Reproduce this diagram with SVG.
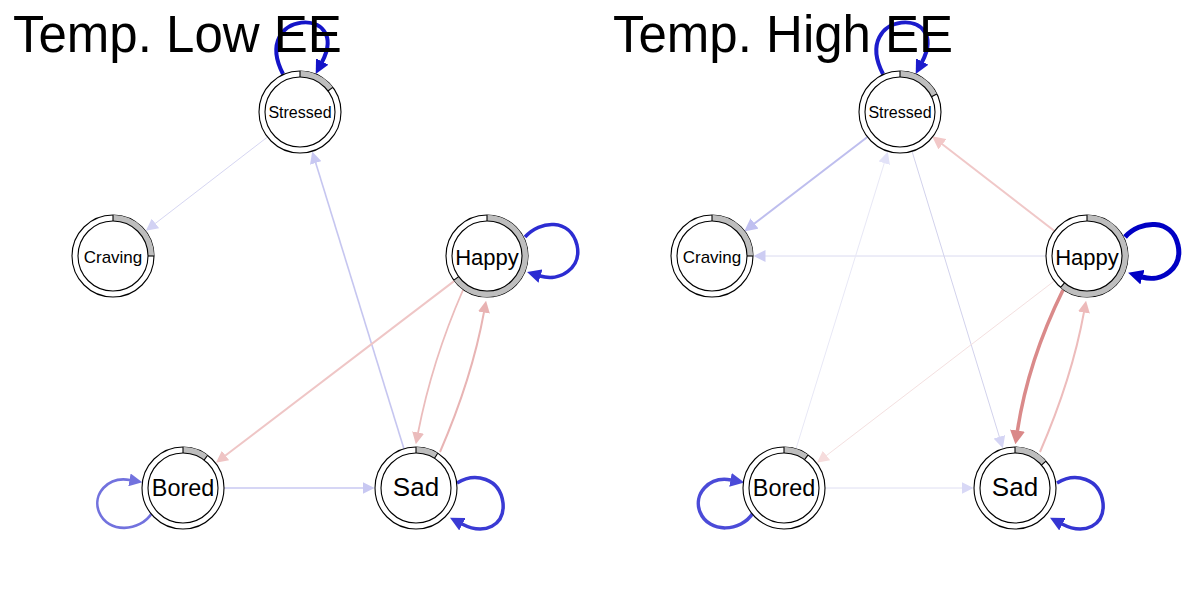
<svg xmlns="http://www.w3.org/2000/svg" width="1200" height="600" viewBox="0 0 1200 600">
  <style>
    .title { font-family: "Liberation Sans", Arial, sans-serif; font-size: 51px; fill: #000; }
    .lbl { font-family: "Liberation Sans", Arial, sans-serif; fill: #000; text-anchor: middle; }
    .outer { fill: #fff; stroke: #000; stroke-width: 1.1; }
    .inner { fill: #fff; stroke: #000; stroke-width: 1.1; }
    .pie { fill: none; stroke: #bebebe; stroke-width: 6; }
    .tick { stroke: #000; stroke-width: 1.1; }
    .edge { fill: none; stroke-linecap: butt; }
  </style>
  <defs>
    <!-- arrowheads, one per colour; path ends sit on the arrow base -->
    <marker id="aS1" viewBox="0 0 14 14" refX="0.5" refY="7" markerWidth="14" markerHeight="14" markerUnits="userSpaceOnUse" orient="auto"><path d="M0,0L14,7L0,14z" fill="#1414c8"/></marker>
    <marker id="aSC1" viewBox="0 0 12 12" refX="0.5" refY="6" markerWidth="12" markerHeight="12" markerUnits="userSpaceOnUse" orient="auto"><path d="M0,0L12,6L0,12z" fill="#d2d2f4"/></marker>
    <marker id="aDS1" viewBox="0 0 12 12" refX="0.5" refY="6" markerWidth="12" markerHeight="12" markerUnits="userSpaceOnUse" orient="auto"><path d="M0,0L12,6L0,12z" fill="#c8c8f2"/></marker>
    <marker id="aH1" viewBox="0 0 14 14" refX="0.5" refY="7" markerWidth="14" markerHeight="14" markerUnits="userSpaceOnUse" orient="auto"><path d="M0,0L14,7L0,14z" fill="#2c2cd2"/></marker>
    <marker id="aHB1" viewBox="0 0 12 12" refX="0.5" refY="6" markerWidth="12" markerHeight="12" markerUnits="userSpaceOnUse" orient="auto"><path d="M0,0L12,6L0,12z" fill="#efc4c4"/></marker>
    <marker id="aHD1" viewBox="0 0 12 12" refX="0.5" refY="6" markerWidth="12" markerHeight="12" markerUnits="userSpaceOnUse" orient="auto"><path d="M0,0L12,6L0,12z" fill="#ebbcbc"/></marker>
    <marker id="aDH1" viewBox="0 0 12 12" refX="0.5" refY="6" markerWidth="12" markerHeight="12" markerUnits="userSpaceOnUse" orient="auto"><path d="M0,0L12,6L0,12z" fill="#e8b2b2"/></marker>
    <marker id="aBD1" viewBox="0 0 12 12" refX="0.5" refY="6" markerWidth="12" markerHeight="12" markerUnits="userSpaceOnUse" orient="auto"><path d="M0,0L12,6L0,12z" fill="#c8c8f2"/></marker>
    <marker id="aB1" viewBox="0 0 13 13" refX="0.5" refY="6.5" markerWidth="13" markerHeight="13" markerUnits="userSpaceOnUse" orient="auto"><path d="M0,0L13,6.5L0,13z" fill="#7272de"/></marker>
    <marker id="aD1" viewBox="0 0 14 14" refX="0.5" refY="7" markerWidth="14" markerHeight="14" markerUnits="userSpaceOnUse" orient="auto"><path d="M0,0L14,7L0,14z" fill="#3a3ad4"/></marker>

    <marker id="aS2" viewBox="0 0 14 14" refX="0.5" refY="7" markerWidth="14" markerHeight="14" markerUnits="userSpaceOnUse" orient="auto"><path d="M0,0L14,7L0,14z" fill="#1c1ccc"/></marker>
    <marker id="aSC2" viewBox="0 0 13 13" refX="0.5" refY="6.5" markerWidth="13" markerHeight="13" markerUnits="userSpaceOnUse" orient="auto"><path d="M0,0L13,6.5L0,13z" fill="#c0c0f0"/></marker>
    <marker id="aHS2" viewBox="0 0 13 13" refX="0.5" refY="6.5" markerWidth="13" markerHeight="13" markerUnits="userSpaceOnUse" orient="auto"><path d="M0,0L13,6.5L0,13z" fill="#f2c8c8"/></marker>
    <marker id="aHC2" viewBox="0 0 12 12" refX="0.5" refY="6" markerWidth="12" markerHeight="12" markerUnits="userSpaceOnUse" orient="auto"><path d="M0,0L12,6L0,12z" fill="#cdcdf3"/></marker>
    <marker id="aBS2" viewBox="0 0 12 12" refX="0.5" refY="6" markerWidth="12" markerHeight="12" markerUnits="userSpaceOnUse" orient="auto"><path d="M0,0L12,6L0,12z" fill="#e2e2f8"/></marker>
    <marker id="aSD2" viewBox="0 0 12 12" refX="0.5" refY="6" markerWidth="12" markerHeight="12" markerUnits="userSpaceOnUse" orient="auto"><path d="M0,0L12,6L0,12z" fill="#d4d4f4"/></marker>
    <marker id="aHB2" viewBox="0 0 12 12" refX="0.5" refY="6" markerWidth="12" markerHeight="12" markerUnits="userSpaceOnUse" orient="auto"><path d="M0,0L12,6L0,12z" fill="#f6dcdc"/></marker>
    <marker id="aHD2" viewBox="0 0 14 15" refX="0.5" refY="7.5" markerWidth="14" markerHeight="15" markerUnits="userSpaceOnUse" orient="auto"><path d="M0,0L14,7.5L0,15z" fill="#da8888"/></marker>
    <marker id="aDH2" viewBox="0 0 12 12" refX="0.5" refY="6" markerWidth="12" markerHeight="12" markerUnits="userSpaceOnUse" orient="auto"><path d="M0,0L12,6L0,12z" fill="#edbaba"/></marker>
    <marker id="aBD2" viewBox="0 0 12 12" refX="0.5" refY="6" markerWidth="12" markerHeight="12" markerUnits="userSpaceOnUse" orient="auto"><path d="M0,0L12,6L0,12z" fill="#d8d8f6"/></marker>
    <marker id="aH2" viewBox="0 0 15 15" refX="0.5" refY="7.5" markerWidth="15" markerHeight="15" markerUnits="userSpaceOnUse" orient="auto"><path d="M0,0L15,7.5L0,15z" fill="#0000c4"/></marker>
    <marker id="aB2" viewBox="0 0 14 14" refX="0.5" refY="7" markerWidth="14" markerHeight="14" markerUnits="userSpaceOnUse" orient="auto"><path d="M0,0L14,7L0,14z" fill="#4b4bd8"/></marker>
    <marker id="aD2" viewBox="0 0 14 14" refX="0.5" refY="7" markerWidth="14" markerHeight="14" markerUnits="userSpaceOnUse" orient="auto"><path d="M0,0L14,7L0,14z" fill="#3535d2"/></marker>
  </defs>

  <rect width="1200" height="600" fill="#fff"/>

  <!-- ===== Left network: Low EE ===== -->
  <g id="edges-low">
    <path class="edge" d="M267.5,137 L155,223.7" stroke="#d6d6f2" stroke-width="1" marker-end="url(#aSC1)"/>
    <path class="edge" d="M404,449 L315.6,162.5" stroke="#c6c6f0" stroke-width="1.6" marker-end="url(#aDS1)"/>
    <path class="edge" d="M454.4,280.9 L225.1,455.8" stroke="#efc6c6" stroke-width="2" marker-end="url(#aHB1)"/>
    <path class="edge" d="M463,290 Q432,361 418,433" stroke="#ebbcbc" stroke-width="1.8" marker-end="url(#aHD1)"/>
    <path class="edge" d="M440,452 Q472,378 484,312" stroke="#e8b4b4" stroke-width="2" marker-end="url(#aDH1)"/>
    <path class="edge" d="M224,488 L363,488" stroke="#c8c8f2" stroke-width="1.6" marker-end="url(#aBD1)"/>
    <path class="edge" d="M283,74 C250,10 352,5 322,62" stroke="#1414c8" stroke-width="4" marker-end="url(#aS1)"/>
    <path class="edge" d="M525,237 C540,220 570,218 577,245 C582,268 560,282 540,276" stroke="#2c2cd2" stroke-width="3.5" marker-end="url(#aH1)"/>
    <path class="edge" d="M152,513 C140,532 108,534 99,512 C92,494 108,476 130,480" stroke="#7272de" stroke-width="2.6" marker-end="url(#aB1)"/>
    <path class="edge" d="M457,483 C475,472 500,478 503,503 C505,525 485,536 462,524" stroke="#3a3ad4" stroke-width="3.5" marker-end="url(#aD1)"/>
  </g>

  <g id="stressed-low">
    <circle class="outer" cx="300" cy="112" r="41"/>
    <path class="pie" d="M300,74 A38,38 0 0 1 330.35,89.13"/>
    <circle class="inner" cx="300" cy="112" r="35"/>
    <line class="tick" x1="300" y1="71" x2="300" y2="77"/>
    <line class="tick" x1="327.95" y1="90.94" x2="332.74" y2="87.33"/>
    <text class="lbl" x="300" y="118" font-size="16">Stressed</text>
  </g>
  <g id="craving-low">
    <circle class="outer" cx="113" cy="256" r="41"/>
    <path class="pie" d="M113,218 A38,38 0 0 1 151,256"/>
    <circle class="inner" cx="113" cy="256" r="35"/>
    <line class="tick" x1="113" y1="215" x2="113" y2="221"/>
    <line class="tick" x1="148" y1="256" x2="154" y2="256"/>
    <text class="lbl" x="113" y="263" font-size="17">Craving</text>
  </g>
  <g id="happy-low">
    <circle class="outer" cx="487" cy="256" r="41"/>
    <path class="pie" d="M487,218 A38,38 0 1 1 456.26,278.34"/>
    <circle class="inner" cx="487" cy="256" r="35"/>
    <line class="tick" x1="487" y1="215" x2="487" y2="221"/>
    <line class="tick" x1="458.69" y1="276.57" x2="453.83" y2="280.1"/>
    <text class="lbl" x="487" y="265" font-size="22">Happy</text>
  </g>
  <g id="bored-low">
    <circle class="outer" cx="183" cy="488" r="41"/>
    <path class="pie" d="M183,450 A38,38 0 0 1 205.87,457.65"/>
    <circle class="inner" cx="183" cy="488" r="35"/>
    <line class="tick" x1="183" y1="447" x2="183" y2="453"/>
    <line class="tick" x1="204.06" y1="460.05" x2="207.67" y2="455.26"/>
    <text class="lbl" x="183" y="496" font-size="23.4">Bored</text>
  </g>
  <g id="sad-low">
    <circle class="outer" cx="416" cy="488" r="41"/>
    <path class="pie" d="M416,450 A38,38 0 0 1 436.14,455.78"/>
    <circle class="inner" cx="416" cy="488" r="35"/>
    <line class="tick" x1="416" y1="447" x2="416" y2="453"/>
    <line class="tick" x1="434.55" y1="458.32" x2="437.73" y2="453.23"/>
    <text class="lbl" x="416" y="496" font-size="26">Sad</text>
  </g>

  <!-- ===== Right network: High EE ===== -->
  <g id="edges-high">
    <path class="edge" d="M867.4,137 L754.1,223.8" stroke="#bebeee" stroke-width="2" marker-end="url(#aSC2)"/>
    <path class="edge" d="M1054.5,231 L942,144" stroke="#f0c8c8" stroke-width="2" marker-end="url(#aHS2)"/>
    <path class="edge" d="M1046,256 L765,256" stroke="#dadaf0" stroke-width="1" marker-end="url(#aHC2)"/>
    <path class="edge" d="M796,448.8 L884.4,162.7" stroke="#e8e8f6" stroke-width="1" marker-end="url(#aBS2)"/>
    <path class="edge" d="M912,151.2 L999.5,437.3" stroke="#d2d2ec" stroke-width="1" marker-end="url(#aSD2)"/>
    <path class="edge" d="M1054.4,280.9 L826.1,455.8" stroke="#f4e0e0" stroke-width="1" marker-end="url(#aHB2)"/>
    <path class="edge" d="M1063,290 Q1028,361 1017.4,431" stroke="#da8a8a" stroke-width="3.5" marker-end="url(#aHD2)"/>
    <path class="edge" d="M1040,452 Q1072,378 1084,312" stroke="#edbcbc" stroke-width="2" marker-end="url(#aDH2)"/>
    <path class="edge" d="M825,488 L962,488" stroke="#dedef2" stroke-width="1" marker-end="url(#aBD2)"/>
    <path class="edge" d="M883,74 C850,10 952,5 922,62" stroke="#1c1ccc" stroke-width="4" marker-end="url(#aS2)"/>
    <path class="edge" d="M1125,237 C1140,220 1172,218 1178,245 C1183,268 1162,283 1142,277" stroke="#0000c4" stroke-width="5" marker-end="url(#aH2)"/>
    <path class="edge" d="M753,513 C741,532 709,534 700,512 C693,494 709,476 731,480" stroke="#4b4bd8" stroke-width="3.5" marker-end="url(#aB2)"/>
    <path class="edge" d="M1057,483 C1075,472 1100,478 1103,503 C1105,525 1085,536 1062,524" stroke="#3535d2" stroke-width="3.5" marker-end="url(#aD2)"/>
  </g>

  <g id="stressed-high">
    <circle class="outer" cx="900" cy="112" r="41"/>
    <path class="pie" d="M900,74 A38,38 0 0 1 934.15,95.34"/>
    <circle class="inner" cx="900" cy="112" r="35"/>
    <line class="tick" x1="900" y1="71" x2="900" y2="77"/>
    <line class="tick" x1="931.46" y1="96.66" x2="936.85" y2="94.03"/>
    <text class="lbl" x="900" y="118" font-size="16">Stressed</text>
  </g>
  <g id="craving-high">
    <circle class="outer" cx="712" cy="256" r="41"/>
    <path class="pie" d="M712,218 A38,38 0 0 1 750,256"/>
    <circle class="inner" cx="712" cy="256" r="35"/>
    <line class="tick" x1="712" y1="215" x2="712" y2="221"/>
    <line class="tick" x1="747" y1="256" x2="753" y2="256"/>
    <text class="lbl" x="712" y="263" font-size="17">Craving</text>
  </g>
  <g id="happy-high">
    <circle class="outer" cx="1087" cy="256" r="41"/>
    <path class="pie" d="M1087,218 A38,38 0 1 1 1062.57,285.11"/>
    <circle class="inner" cx="1087" cy="256" r="35"/>
    <line class="tick" x1="1087" y1="215" x2="1087" y2="221"/>
    <line class="tick" x1="1064.5" y1="282.81" x2="1060.65" y2="287.41"/>
    <text class="lbl" x="1087" y="265" font-size="22">Happy</text>
  </g>
  <g id="bored-high">
    <circle class="outer" cx="784" cy="488" r="41"/>
    <path class="pie" d="M784,450 A38,38 0 0 1 806.34,457.26"/>
    <circle class="inner" cx="784" cy="488" r="35"/>
    <line class="tick" x1="784" y1="447" x2="784" y2="453"/>
    <line class="tick" x1="804.57" y1="459.69" x2="808.1" y2="454.83"/>
    <text class="lbl" x="784" y="496" font-size="23.4">Bored</text>
  </g>
  <g id="sad-high">
    <circle class="outer" cx="1015" cy="488" r="41"/>
    <path class="pie" d="M1015,450 A38,38 0 0 1 1043.68,463.07"/>
    <circle class="inner" cx="1015" cy="488" r="35"/>
    <line class="tick" x1="1015" y1="447" x2="1015" y2="453"/>
    <line class="tick" x1="1041.41" y1="465.04" x2="1045.94" y2="461.1"/>
    <text class="lbl" x="1015" y="496" font-size="26">Sad</text>
  </g>

  <!-- panel titles -->
  <text class="title" x="13" y="52">Temp. Low EE</text>
  <text class="title" x="613" y="52">Temp. High EE</text>
</svg>
